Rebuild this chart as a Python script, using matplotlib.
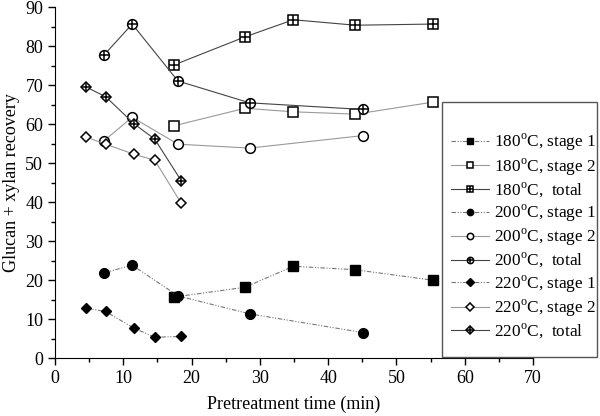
import matplotlib
matplotlib.use('Agg')
import matplotlib.pyplot as plt
from matplotlib.patches import Rectangle
from matplotlib.legend_handler import HandlerTuple

plt.rcParams['font.family'] = ['Liberation Serif', 'DejaVu Serif']
plt.rcParams['mathtext.fontset'] = 'custom'
plt.rcParams['mathtext.rm'] = 'Liberation Serif'

# pretreatment time (min) and recovery values per series
t180 = [17.4, 27.8, 34.9, 44.0, 55.4]
s1_180 = [15.7, 18.2, 23.6, 22.7, 20.0]
s2_180 = [59.6, 64.1, 63.2, 62.6, 65.7]
tot_180 = [75.2, 82.4, 86.8, 85.4, 85.7]

t200 = [7.2, 11.3, 18.0, 28.5, 45.1]
s1_200 = [21.9, 23.9, 16.0, 11.4, 6.6]
s2_200 = [55.8, 61.8, 54.9, 53.9, 57.1]
tot_200 = [77.8, 85.7, 71.1, 65.5, 63.8]

t220 = [4.6, 7.4, 11.6, 14.6, 18.5]
s1_220 = [12.8, 12.0, 7.7, 5.4, 5.6]
s2_220 = [56.7, 54.9, 52.3, 50.8, 39.7]
tot_220 = [69.5, 67.1, 60.1, 56.2, 45.5]

labels = ['180$^{\\mathrm{o}}$C, stage 1', '180$^{\\mathrm{o}}$C, stage 2', '180$^{\\mathrm{o}}$C,  total',
          '200$^{\\mathrm{o}}$C, stage 1', '200$^{\\mathrm{o}}$C, stage 2', '200$^{\\mathrm{o}}$C,  total',
          '220$^{\\mathrm{o}}$C, stage 1', '220$^{\\mathrm{o}}$C, stage 2', '220$^{\\mathrm{o}}$C,  total']

fig = plt.figure(figsize=(6, 4.16), dpi=100)
ax = fig.add_axes([0.0917, 0.1387, 0.7966, 0.8438])

dashdot = (0, (4, 1.5, 1, 1.5, 1, 1.5))
c1 = '#777777'   # stage 1 line
c2 = '#999999'   # stage 2 line
c3 = '#444444'   # total line
ms = 7.0

handles = []
for t, s1, s2, tot, mk in [(t180, s1_180, s2_180, tot_180, 's'),
                           (t200, s1_200, s2_200, tot_200, 'o'),
                           (t220, s1_220, s2_220, tot_220, 'D')]:
    m_s = ms * 0.8 if mk == 'D' else ms
    h1, = ax.plot(t, s1, color=c1, lw=0.8, ls=dashdot, marker=mk, ms=m_s,
                  mfc='black', mec='black')
    h2, = ax.plot(t, s2, color=c2, lw=0.8, marker=mk, ms=m_s,
                  mfc='white', mec='black', mew=1.1)
    h3a, = ax.plot(t, tot, color=c3, lw=0.8, marker=mk, ms=m_s,
                   mfc='white', mec='black', mew=1.1)
    h3b, = ax.plot(t, tot, ls='none', marker='+', ms=m_s * (1.35 if mk == 'D' else 1.0),
                   mec='black', mew=1.1)
    handles += [h1, h2, (h3a, h3b)]

ax.set_xlim(0, 70)
ax.set_ylim(0, 90)
ax.set_xticks(range(0, 71, 10))
ax.set_yticks(range(0, 91, 10))
ax.set_xticks(range(5, 70, 10), minor=True)
ax.set_yticks(range(5, 90, 10), minor=True)
ax.spines['top'].set_visible(False)
ax.spines['right'].set_visible(False)
ax.tick_params(which='major', direction='out', length=5, width=1, labelsize=13, colors='black')
ax.tick_params(which='minor', direction='out', length=3, width=1)
ax.set_xlabel('Pretreatment time (min)', fontsize=13, labelpad=6)
ax.set_ylabel('Glucan + xylan recovery', fontsize=13, labelpad=4)

# legend box drawn separately so its padding can match the original
fig.patches.append(Rectangle((0.737, 0.142), 0.258, 0.614, transform=fig.transFigure,
                             fill=False, edgecolor='#555555', linewidth=1.0))
leg = fig.legend(handles, labels, loc='upper left', bbox_to_anchor=(0.752, 0.683),
                 fontsize=12.4, frameon=False,
                 handler_map={tuple: HandlerTuple(ndivide=1, pad=0)}, markerscale=0.65,
                 handlelength=2.2, handletextpad=0.3, labelspacing=0.17, borderaxespad=0,
                 borderpad=0)

fig.savefig('out.png', dpi=100)
